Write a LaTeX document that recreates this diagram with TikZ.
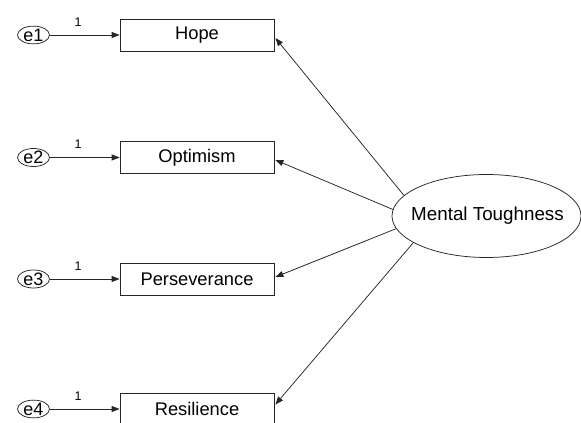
\documentclass[tikz,border=0pt]{standalone}
\usepackage{fontspec}
\setmainfont{Liberation Sans}
\usetikzlibrary{shapes.geometric,arrows.meta,calc}
\begin{document}
\begin{tikzpicture}[x=1pt,y=1pt,
  obs/.style={draw=black!85,line width=0.75pt,minimum width=154pt,minimum height=32pt,inner sep=0pt,font=\fontsize{18.3}{21}\selectfont},
  err/.style={draw=black!85,ellipse,line width=0.75pt,minimum width=32pt,minimum height=17pt,inner sep=0pt,font=\fontsize{18}{20}\selectfont},
  lat/.style={draw=black!85,ellipse,line width=0.75pt,minimum width=189pt,minimum height=83pt,inner sep=0pt},
  lattext/.style={font=\fontsize{18.8}{21}\selectfont,inner sep=0pt},
  arr/.style={line width=0.75pt,draw=black!85,-{Triangle[length=8pt,width=6pt]}},
  one/.style={font=\fontsize{12.5}{14}\selectfont,inner sep=0pt}]
\useasboundingbox (0,0) rectangle (581,423);
\node[obs] (hope) at (197,388) {Hope};
\node[obs] (opt) at (197,265.5) {Optimism};
\node[obs] (per) at (197,144) {Perseverance};
\node[obs] (res) at (197,14) {Resilience};
\node[err] (e1) at (33.5,388) {e1};
\node[err] (e2) at (33.5,265.5) {e2};
\node[err] (e3) at (33.5,144) {e3};
\node[err] (e4) at (33.5,14) {e4};
\node[one] (l1) at (78,401) {1};
\node[one] (l2) at (78,278.5) {1};
\node[one] (l3) at (78,157) {1};
\node[one] (l4) at (78,27) {1};
\node[lat] (mt) at (486.5,207) {};
\node[lattext] (mtt) at (487.5,207) {Mental Toughness};
\draw[arr] (e1) -- (hope);
\draw[arr] (e2) -- (opt);
\draw[arr] (e3) -- (per);
\draw[arr] (e4) -- (res);
\coordinate (th) at ($(hope.east)+(1,-3)$);
\coordinate (to) at ($(opt.east)+(1,-2.5)$);
\coordinate (tp) at ($(per.east)+(1,2)$);
\coordinate (tr) at ($(res.east)+(1,4.5)$);
\draw[arr] (mt.166) -- (th);
\draw[arr] (mt.176) -- (to);
\draw[arr] (mt.188) -- (tp);
\draw[arr] (mt.200) -- (tr);
\end{tikzpicture}
\end{document}
